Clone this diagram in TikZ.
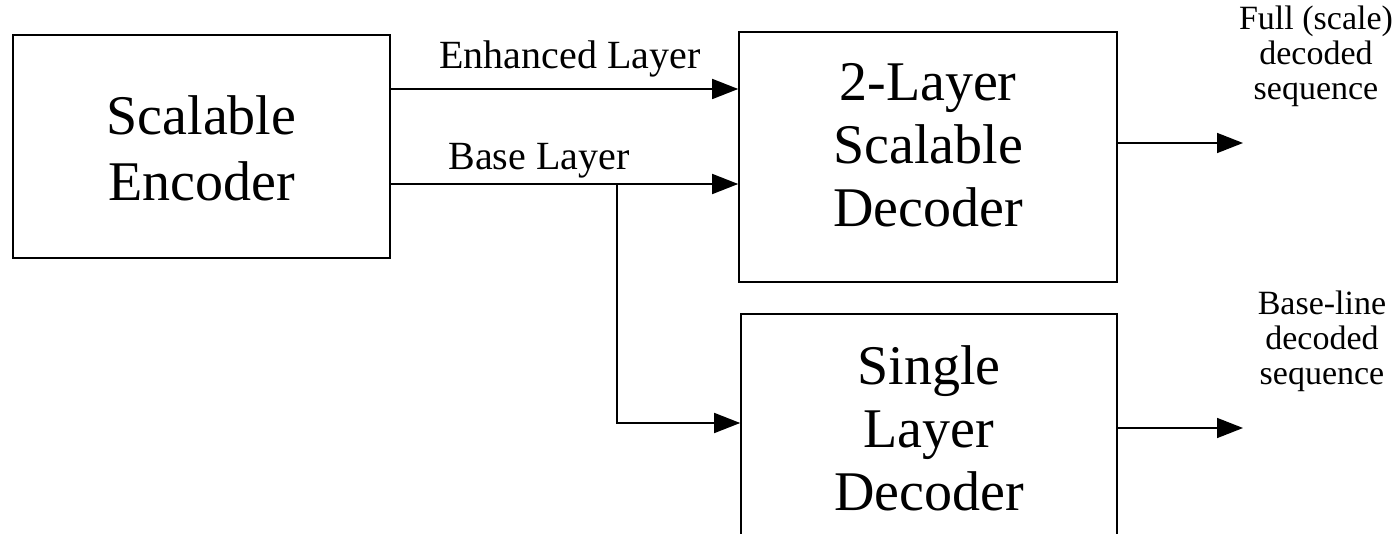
\documentclass[tikz,border=0pt]{standalone}
\usepackage{fontspec}
\setmainfont{Liberation Serif}
\usetikzlibrary{arrows.meta}
\begin{document}
\begin{tikzpicture}[x=1pt,y=-1pt,
  blk/.style={draw,line width=1.6pt,inner sep=0pt},
  btxt/.style={font=\fontsize{56}{63}\selectfont,align=center,inner sep=0pt},
  arr/.style={line width=1.6pt,-{Triangle[length=26pt,width=20pt]}},
  lbl/.style={font=\fontsize{40}{44}\selectfont,anchor=base,inner sep=0pt},
  outl/.style={font=\fontsize{34}{35}\selectfont,align=center,inner sep=0pt}]
\useasboundingbox (0,0) rectangle (1399,534);
\clip (0,0) rectangle (1399,534);
\node[blk,minimum width=377pt,minimum height=223pt] (enc) at (201.5,146.5) {};
\node[blk,minimum width=378pt,minimum height=250pt] (dec2) at (928,157) {};
\node[blk,minimum width=376pt,minimum height=250pt] (dec1) at (929,439) {};
\node[btxt,font=\fontsize{56}{66}\selectfont] (tenc) at (201.5,148) {Scalable\\Encoder};
\node[btxt] (tdec2) at (928,145) {2-Layer\\Scalable\\Decoder};
\node[btxt] (tdec1) at (929,428) {Single\\Layer\\Decoder};
\draw[arr] (enc.east |- 0,89) -- (dec2.west |- 0,89);
\draw[arr] (enc.east |- 0,184) -- (dec2.west |- 0,184);
\coordinate (br) at (617,184);
\draw[arr] (br) |- (dec1.west |- 0,423);
\node[lbl] (le) at (570,69) {Enhanced Layer};
\node[lbl] (lb) at (539,170) {Base Layer};
\coordinate (o2) at (1243,143);
\coordinate (o1) at (1243,428);
\draw[arr] (dec2.east |- o2) -- (o2);
\draw[arr] (dec1.east |- o1) -- (o1);
\node[outl] (f) at (1316,56) {Full (scale)\\decoded\\sequence};
\node[outl] (b) at (1322,341) {Base-line\\decoded\\sequence};
\end{tikzpicture}
\end{document}
